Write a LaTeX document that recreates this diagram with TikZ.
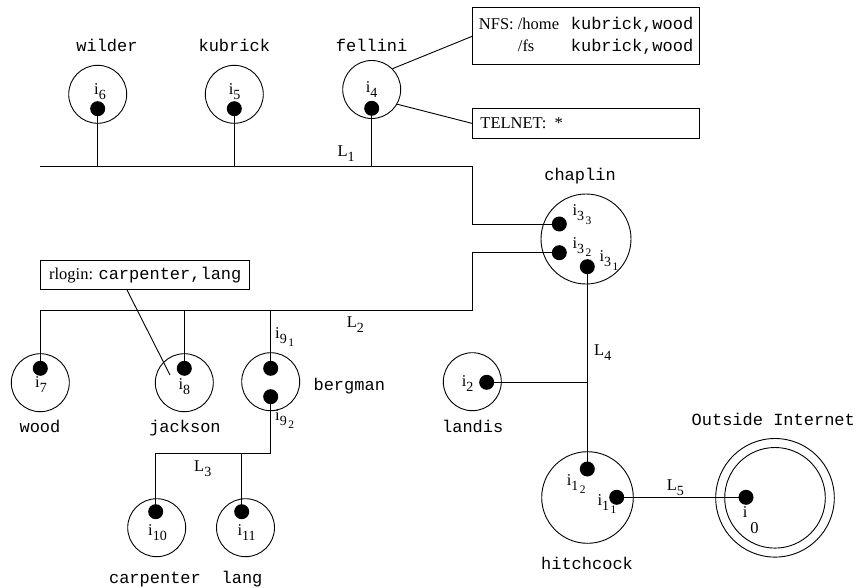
\documentclass[tikz,border=0pt]{standalone}
\usepackage{fontspec}
\setmainfont{Liberation Serif}
\setmonofont{Liberation Mono}
\usetikzlibrary{calc}
\newcommand\sbs[1]{\raisebox{-5pt}{\fontsize{14}{14}\selectfont #1}}
\newcommand\sbsb[1]{\hspace{1.5pt}\raisebox{-3.5pt}{\fontsize{11.5}{12}\selectfont #1}}
\tikzset{
  host/.style={draw, circle, line width=0.9pt, minimum size=58pt, inner sep=0pt},
  bighost/.style={draw, circle, line width=0.9pt, minimum size=90pt, inner sep=0pt},
  dot/.style={fill, circle, minimum size=15pt, inner sep=0pt},
  wire/.style={line width=0.9pt},
  iflab/.style={anchor=base west, inner sep=0pt, font=\fontsize{16.5}{20}\selectfont},
  hname/.style={anchor=base, inner sep=0pt, font=\fontsize{17}{20}\ttfamily},
  netlab/.style={anchor=base west, inner sep=0pt, font=\fontsize{16.5}{20}\selectfont},
  infobox/.style={draw, line width=0.9pt, font=\fontsize{16.5}{22}\selectfont}
}
\begin{document}
\begin{tikzpicture}[x=1pt,y=-1pt]
\useasboundingbox (0,0) rectangle (859,588);
% hosts
\node[host] (wilder) at (97.7,94.3) {};
\node[host] (kubrick) at (234.3,94.3) {};
\node[host] (fellini) at (371.7,89.5) {};
\node[bighost] (chaplin) at (586,239) {};
\node[host] (wood) at (40.3,382.7) {};
\node[host] (jackson) at (184.3,382.7) {};
\node[host] (bergman) at (270.7,381.7) {};
\node[host] (landis) at (472.3,381.7) {};
\node[host] (carpenter) at (156.7,527.7) {};
\node[host] (lang) at (245.5,527.7) {};
\node[bighost, minimum size=91.6pt] (hitchcock) at (587.5,497.5) {};
\node[draw, circle, line width=0.9pt, minimum size=118.6pt, inner sep=0pt] (outer) at (775,497.8) {};
\node[draw, circle, line width=0.9pt, minimum size=100.6pt, inner sep=0pt] (inner) at (775,497.8) {};
% dots
\node[dot] (d6) at (97.7,108.7) {};
\node[dot] (d5) at (234.3,108.7) {};
\node[dot] (d4) at (371.7,108.3) {};
\node[dot] (d33) at (559.3,224) {};
\node[dot] (d32) at (559.3,252.7) {};
\node[dot] (d31) at (587.3,266.7) {};
\node[dot] (d7) at (40.3,368.3) {};
\node[dot] (d8) at (184.3,368.3) {};
\node[dot] (d91) at (270.7,368.3) {};
\node[dot] (d92) at (270.7,396.7) {};
\node[dot] (d2) at (486.7,382.3) {};
\node[dot] (d10) at (155.7,511.7) {};
\node[dot] (d11) at (241.7,511.7) {};
\node[dot] (d12) at (587.3,469) {};
\node[dot] (d1) at (616.7,497.3) {};
\node[dot] (d0) at (746,497.3) {};
% network junctions
\coordinate (L1a) at (40,166);
\coordinate (L1b) at (472.3,166);
\coordinate (L2a) at (40.3,310.3);
\coordinate (L2b) at (472.3,310.3);
\coordinate (L3a) at (155.7,453.3);
% L1
\draw[wire] (L1a) -- (L1b) |- (d33.center);
\draw[wire] (d6.center) -- (d6 |- L1a);
\draw[wire] (d5.center) -- (d5 |- L1a);
\draw[wire] (d4.center) -- (d4 |- L1a);
% L2
\draw[wire] (d32.center) -| (L2b) -- (L2a) -- (d7.center);
\draw[wire] (d8.center) -- (d8 |- L2a);
\draw[wire] (d91.center) -- (d91 |- L2a);
% L3
\draw[wire] (d92.center) |- (L3a) -- (d10.center);
\draw[wire] (d11.center) -- (d11 |- L3a);
% L4
\draw[wire] (d31.center) -- (d12.center);
\draw[wire] (d2.center) -- (d2 -| d31);
% L5
\draw[wire] (d1.center) -- (d0.center);
% boxes
\node[infobox, anchor=north west, minimum width=226.7pt, inner xsep=5.7pt, inner ysep=6.5pt] (nfs) at (472.3,7.3)
  {\begin{tabular}{@{}l@{\hspace{11.7pt}}l@{}}NFS: /home & \texttt{\fontsize{17}{22}\selectfont kubrick,wood}\\ \phantom{NFS: }/fs & \texttt{\fontsize{17}{22}\selectfont kubrick,wood}\end{tabular}};
\node[infobox, anchor=north west, minimum height=29.4pt, text width=211.3pt, inner xsep=7.7pt, inner ysep=0pt, align=left] (telnet) at (472.3,108.3) {TELNET:\hspace{8pt}*};
\node[infobox, anchor=north west, minimum width=209pt, minimum height=29pt, inner ysep=0pt] (rlogin) at (40.3,260) {rlogin: \texttt{\fontsize{17}{22}\selectfont carpenter,lang}};
\coordinate (rlend) at (170,375);
\draw[wire] (fellini.45) -- (nfs.west);
\draw[wire] (fellini.-30) -- (telnet.west);
\draw[wire] ($(rlogin.south west)!0.413!(rlogin.south east)$) -- (rlend);
% interface labels
\node[iflab] (li6) at (94,94.3) {i\sbs{6}};
\node[iflab] (li5) at (228.7,94.3) {i\sbs{5}};
\node[iflab] (li4) at (365.7,92.7) {i\sbs{4}};
\node[iflab] (li33) at (572.3,215.7) {i\sbs{3\sbsb{3}}};
\node[iflab] (li32) at (572.3,248.3) {i\sbs{3\sbsb{2}}};
\node[iflab] (li31) at (599.3,261.7) {i\sbs{3\sbsb{1}}};
\node[iflab] (li7) at (35,387.5) {i\sbs{7}};
\node[iflab] (li8) at (178.3,389) {i\sbs{8}};
\node[iflab] (li91) at (275,338.3) {i\sbs{9\sbsb{1}}};
\node[iflab] (li92) at (275,420) {i\sbs{9\sbsb{2}}};
\node[iflab] (li2) at (461.7,386.7) {i\sbs{2}};
\node[iflab] (li10) at (148,535) {i\sbs{10}};
\node[iflab] (li11) at (237.3,535) {i\sbs{11}};
\node[iflab] (li12) at (566.7,485) {i\sbs{1\sbsb{2}}};
\node[iflab] (li1) at (597.3,505) {i\sbs{1\sbsb{1}}};
\node[iflab] (li0) at (742.7,517.3) {i\hspace{3pt}\raisebox{-16pt}{0}};
% host names
\node[hname] (nwilder) at (107,51.7) {wilder};
\node[hname] (nkubrick) at (234.3,51.7) {kubrick};
\node[hname] (nfellini) at (371.7,51.3) {fellini};
\node[hname] (nchaplin) at (580,180.7) {chaplin};
\node[hname] (nwood) at (40,432.7) {wood};
\node[hname] (njackson) at (185,432.7) {jackson};
\node[hname] (nbergman) at (349.3,390) {bergman};
\node[hname] (nlandis) at (472.7,432.7) {landis};
\node[hname] (ncarpenter) at (155,583) {carpenter};
\node[hname] (nlang) at (242,583) {lang};
\node[hname] (nhitchcock) at (587,569.3) {hitchcock};
\node[hname] (noutside) at (773.3,425.7) {Outside Internet};
% network labels
\node[netlab] (nL1) at (337.3,156.7) {L\sbs{1}};
\node[netlab] (nL2) at (346.7,327.7) {L\sbs{2}};
\node[netlab] (nL3) at (194,471.7) {L\sbs{3}};
\node[netlab] (nL4) at (594,355) {L\sbs{4}};
\node[netlab] (nL5) at (666.7,490) {L\sbs{5}};
\end{tikzpicture}
\end{document}
